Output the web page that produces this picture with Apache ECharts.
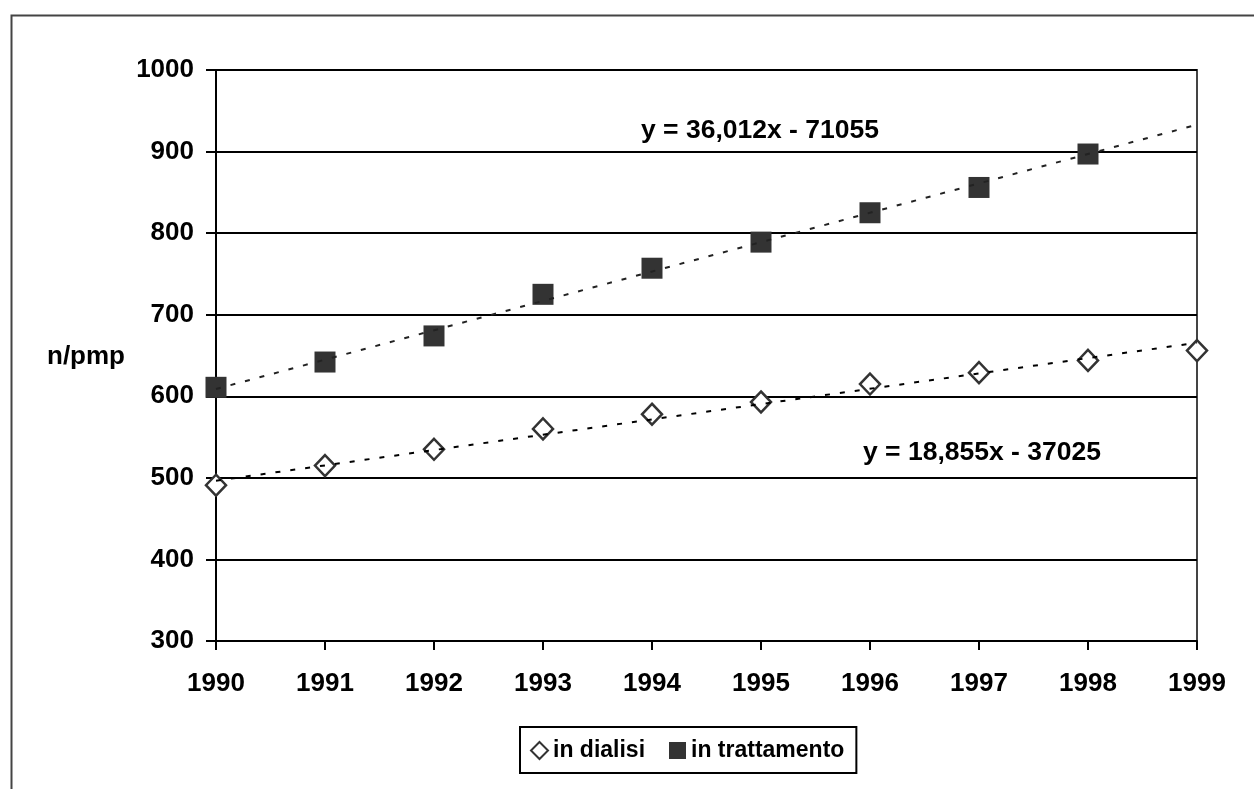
<!DOCTYPE html>
<html>
<head>
<meta charset="utf-8">
<script src="https://cdn.jsdelivr.net/npm/echarts@6/dist/echarts.min.js"></script>
<style>html,body{margin:0;padding:0;background:#fff;}#c{width:1254px;height:789px;}</style>
</head>
<body>
<div id="c"></div>
<script>
const years = [1990, 1991, 1992, 1993, 1994, 1995, 1996, 1997, 1998, 1999];
const inDialisi = [491, 515, 535, 560, 578, 593, 615, 629, 644, 656];
const inTrattamento = [611, 642, 674, 725, 757, 789, 825, 856, 897];
const trendDialisiEnds = [[1990, 496.5], [1999, 665.6]];
const trendTrattEnds = [[1990, 608.9], [1999, 933.0]];
const eqTratt = 'y = 36,012x - 71055';
const eqDialisi = 'y = 18,855x - 37025';
const yTicks = { min: 300, max: 1000, interval: 100 };

const FONT = '"Liberation Sans", Arial, sans-serif';
const chart = echarts.init(document.getElementById('c'), null, { renderer: 'canvas' });

const option = {
  backgroundColor: '#fff',
  animation: false,
  grid: { left: 216, right: 57, top: 70, bottom: 148, show: true, borderColor: '#444', borderWidth: 2, backgroundColor: 'transparent' },
  xAxis: {
    type: 'value', min: 1990, max: 1999, interval: 1,
    axisLine: { show: true, lineStyle: { color: '#000', width: 2 } },
    axisTick: { show: true, length: 9, lineStyle: { color: '#000', width: 2 } },
    splitLine: { show: false },
    axisLabel: { margin: 30, color: '#000', fontFamily: FONT, fontWeight: 'bold', fontSize: 26, formatter: v => String(v) }
  },
  yAxis: {
    type: 'value', min: yTicks.min, max: yTicks.max, interval: yTicks.interval,
    axisLine: { show: true, lineStyle: { color: '#000', width: 2 } },
    axisTick: { show: true, length: 10, lineStyle: { color: '#000', width: 2 } },
    splitLine: { show: true, lineStyle: { color: '#000', width: 2 } },
    axisLabel: { margin: 22, color: '#000', fontFamily: FONT, fontWeight: 'bold', fontSize: 26, formatter: v => String(v) }
  },
  legend: {
    data: [{ name: 'in dialisi', icon: 'diamond' }, { name: 'in trattamento', icon: 'rect' }],
    left: 520, top: 727,
    orient: 'horizontal',
    itemWidth: 17, itemHeight: 17, itemGap: 24,
    padding: [12, 12, 11, 10],
    borderColor: '#000', borderWidth: 2,
    backgroundColor: '#fff',
    textStyle: { color: '#000', fontFamily: FONT, fontWeight: 'bold', fontSize: 23, padding: [0, 0, 0, 0] }
  },
  series: [
    {
      name: 'in dialisi', type: 'scatter', symbol: 'diamond', symbolSize: [20, 21],
      itemStyle: { color: '#fff', borderColor: '#333', borderWidth: 2.5, opacity: 1 },
      data: years.map((y, i) => [y, inDialisi[i]]), z: 3
    },
    {
      name: 'in trattamento', type: 'scatter', symbol: 'rect', symbolSize: 21,
      itemStyle: { color: '#333', borderWidth: 0, opacity: 1 },
      data: inTrattamento.map((v, i) => [years[i], v]), z: 3
    },
    {
      name: 'trend dialisi', type: 'line', symbol: 'none', silent: true,
      lineStyle: { color: '#000', width: 2, type: [5, 10] },
      data: trendDialisiEnds, z: 4
    },
    {
      name: 'trend trattamento', type: 'line', symbol: 'none', silent: true,
      lineStyle: { color: '#222', width: 2, type: [5, 10] },
      data: trendTrattEnds, z: 4
    }
  ],
  graphic: [
    { type: 'rect', left: 9, top: 13, z: -1, shape: { x: 0, y: 0, width: 1260, height: 800 }, style: { fill: 'none', stroke: '#444', lineWidth: 2 } },
    { type: 'text', x: 86, y: 357, style: { text: 'n/pmp', fill: '#000', font: 'bold 26px ' + FONT, textAlign: 'center', textVerticalAlign: 'middle' } },
    { type: 'text', x: 760, y: 131, style: { text: eqTratt, fill: '#000', font: 'bold 26.5px ' + FONT, textAlign: 'center', textVerticalAlign: 'middle' } },
    { type: 'text', x: 982, y: 453, style: { text: eqDialisi, fill: '#000', font: 'bold 26.5px ' + FONT, textAlign: 'center', textVerticalAlign: 'middle' } }
  ]
};
chart.setOption(option);
</script>
</body>
</html>
